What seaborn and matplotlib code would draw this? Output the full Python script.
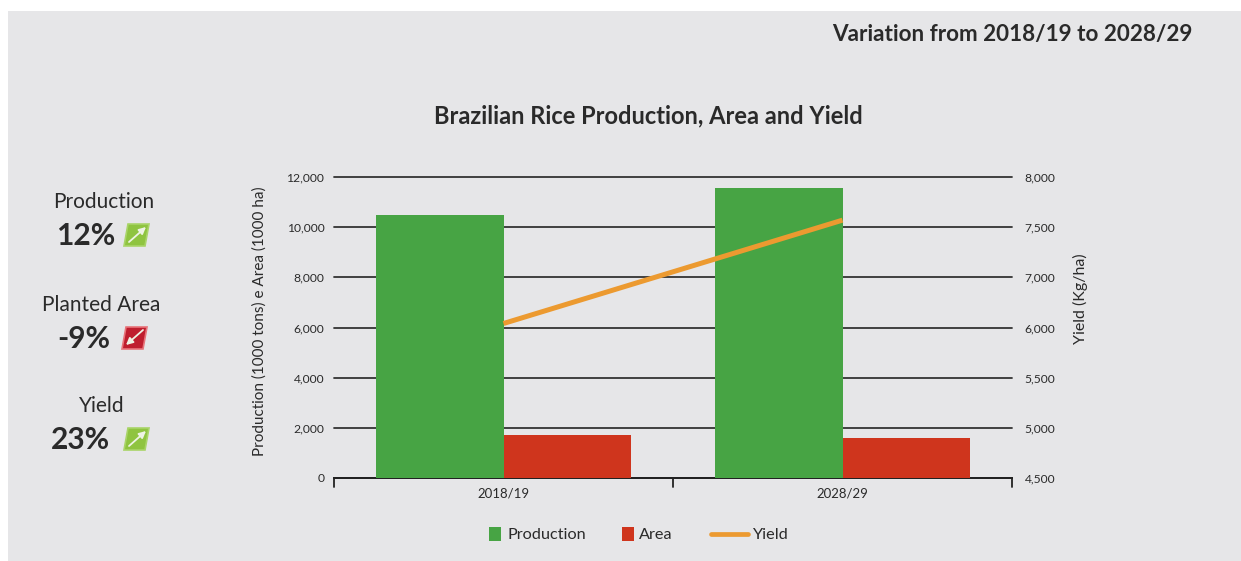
import numpy as np
import pandas as pd
import matplotlib
matplotlib.use("Agg")
import matplotlib.pyplot as plt
from matplotlib.patches import Polygon, Rectangle, FancyArrowPatch
import seaborn as sns

W, H = 1241, 561

years = ["2018/19", "2028/29"]
production = [10480, 11560]
area = [1710, 1600]
yield_kg = [6080, 7570]

left_ticks = [0, 2000, 4000, 6000, 8000, 10000, 12000]
# the right axis of the original skips 6,500, so the labels are evenly spaced
right_ticks = [4500, 5000, 5500, 6000, 7000, 7500, 8000]

summary_names = ["Production", "Planted Area", "Yield"]
summary_values = ["12%", "-9%", "23%"]
summary_up = [True, False, True]

GREEN = "#47a444"
RED = "#cf351d"
ORANGE = "#ec9a30"
BG = "#e6e6e8"
INK = "#2a2a2a"

sns.set_theme(style="white")
plt.rcParams["font.family"] = ["Lato", "DejaVu Sans"]

df = pd.DataFrame({"Year": years, "Production": production, "Area": area})
df = df.melt(id_vars="Year", var_name="Series", value_name="Value")


def fx(x):
    return x / W


def fy(y):
    return 1 - y / H


fig = plt.figure(figsize=(W / 100, H / 100), dpi=100, facecolor="white")
fig.add_artist(Rectangle((fx(8), 0), 1 - fx(8), fy(11), transform=fig.transFigure,
                         facecolor=BG, edgecolor="none", zorder=-5))

ax = fig.add_axes([fx(334), fy(478), fx(1012 - 334), fy(177) - fy(478)])
ax.patch.set_alpha(0)
sns.barplot(data=df, x="Year", y="Value", hue="Series", ax=ax, palette=[GREEN, RED],
            width=0.75, gap=0, saturation=1, legend=False, zorder=3, linewidth=0)
ax.set_xlim(-0.5, 1.5)
ax.set_ylim(0, 12000)
ax.set_yticks(left_ticks)
ax.set_yticklabels([f"{v:,}" for v in left_ticks], fontsize=8.7, color=INK)
ax.set_xlabel("")
ax.set_ylabel("Production (1000 tons) e Area (1000 ha)", fontsize=11, color=INK)
ax.yaxis.set_label_coords((267 - 334) / 678, (478 - 321.5) / 301)
ax.grid(axis="y", color="#333333", lw=1.3, zorder=1)
for line in ax.get_ygridlines():
    line.set_clip_on(False)
ax.set_axisbelow(True)
for s in ["top", "left", "right"]:
    ax.spines[s].set_visible(False)
ax.spines["bottom"].set_color("#222222")
ax.spines["bottom"].set_linewidth(1.4)
ax.tick_params(axis="y", length=0, pad=7)
ax.set_xticks([0, 1])
ax.set_xticklabels(years, fontsize=9.5, color=INK)
ax.tick_params(axis="x", length=0, pad=7)
for xpos in [-0.5, 0.5, 1.5]:
    ax.plot([xpos, xpos], [0, -9 / 301 * 12000], color="#222222", lw=1.3,
            clip_on=False, zorder=4)

ax2 = ax.twinx()
positions = np.arange(len(right_ticks))
ax2.set_yscale("function", functions=(lambda v: np.interp(v, right_ticks, positions),
                                      lambda p: np.interp(p, positions, right_ticks)))
ax2.plot(years, yield_kg, color=ORANGE, lw=3.6, solid_capstyle="butt", zorder=5)
ax2.set_ylim(4500, 8000)
ax2.set_yticks(right_ticks)
ax2.set_yticklabels([f"{v:,}" for v in right_ticks], fontsize=8.7, color=INK)
ax2.minorticks_off()
ax2.tick_params(axis="y", length=0, pad=9)
ax2.grid(False)
ax2.set_ylabel("Yield (Kg/ha)", fontsize=11.5, color=INK)
ax2.yaxis.set_label_coords((1073 - 334) / 678, (478 - 298.5) / 301)
for s in ax2.spines.values():
    s.set_visible(False)

fig.text(fx(1193), fy(34), "Variation from 2018/19 to 2028/29", ha="right", va="center",
         fontsize=16.2, fontweight="bold", color=INK)
fig.text(fx(648.5), fy(116), "Brazilian Rice Production, Area and Yield", ha="center", va="center",
         fontsize=17, fontweight="bold", color=INK)

# left hand summary with the little arrow badges
name_x = [104, 101.5, 101.5]
name_y = [202, 305, 406]
value_y = [236, 339, 440]
value_x = [115, 110, 110]
badge_x = [136, 134, 136]
for i in range(3):
    fig.text(fx(name_x[i]), fy(name_y[i]), summary_names[i], ha="center", va="center",
             fontsize=15, color=INK)
    fig.text(fx(value_x[i]), fy(value_y[i]), summary_values[i], ha="right", va="center",
             fontsize=21.5, fontweight="bold", color=INK)
    cx, cy = badge_x[i], value_y[i] - 1
    color = "#8fc440" if summary_up[i] else "#bf1e2e"
    edge = "#a9d468" if summary_up[i] else "#e8747a"
    pts = [(cx - 12, cy + 11), (cx + 9, cy + 11), (cx + 13, cy - 11), (cx - 8, cy - 11)]
    fig.add_artist(Polygon([(fx(a), fy(b)) for a, b in pts], closed=True,
                           transform=fig.transFigure, facecolor=color, edgecolor=edge, lw=1.2))
    if summary_up[i]:
        start, end = (cx - 7, cy + 7), (cx + 10, cy - 8)
    else:
        start, end = (cx + 9, cy - 8), (cx - 8, cy + 7)
    fig.add_artist(FancyArrowPatch(
        (fx(start[0]), fy(start[1])), (fx(end[0]), fy(end[1])),
        transform=fig.transFigure, arrowstyle="-|>", mutation_scale=10,
        color="#eef3e4", lw=1.3, shrinkA=0, shrinkB=0))

# legend, drawn by hand to keep the spacing of the original
for x0, color, label, tx in [(489, GREEN, "Production", 507), (622, RED, "Area", 639)]:
    fig.add_artist(Rectangle((fx(x0), fy(541)), 12 / W, 14 / H, transform=fig.transFigure,
                             facecolor=color, edgecolor="none"))
    fig.text(fx(tx), fy(535), label, ha="left", va="center", fontsize=11.7, color=INK)
fig.add_artist(plt.Line2D([fx(711), fx(748)], [fy(534), fy(534)], transform=fig.transFigure,
                          color=ORANGE, lw=3.4))
fig.text(fx(752), fy(535), "Yield", ha="left", va="center", fontsize=11.7, color=INK)

fig.savefig("out.png", dpi=100, facecolor="white")
